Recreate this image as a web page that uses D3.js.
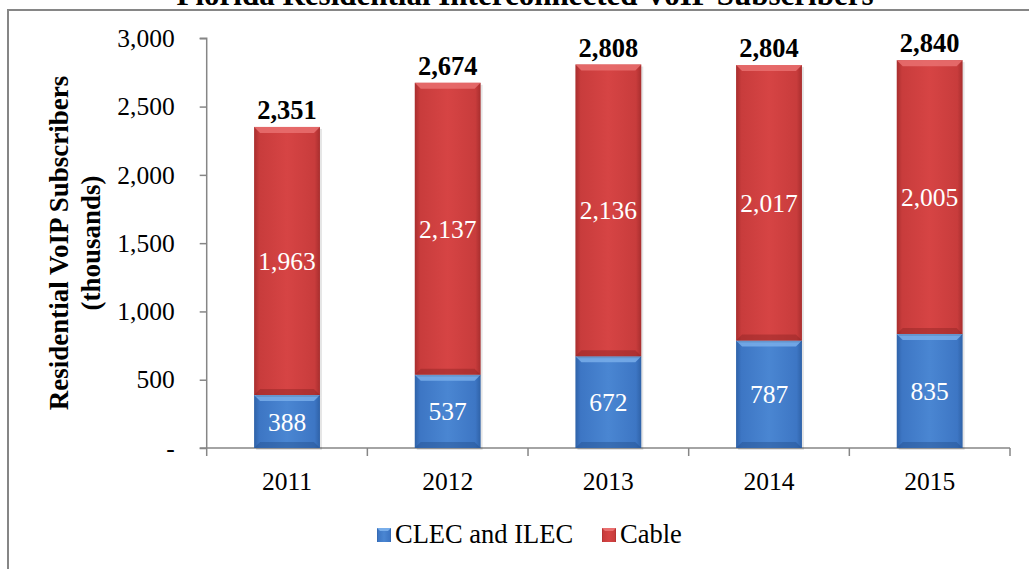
<!DOCTYPE html>
<html><head><meta charset="utf-8">
<script src="https://cdn.jsdelivr.net/npm/d3@7"></script>
<style>body{margin:0;background:#fff}svg{display:block}text{font-family:"Liberation Serif","Times New Roman",serif}</style>
</head><body><svg id="c" width="1029" height="569"></svg>
<script>
const years = ["2011","2012","2013","2014","2015"];
const clec = [388,537,672,787,835];
const cable = [1963,2137,2136,2017,2005];
const totals = [2351,2674,2808,2804,2840];
const yTicks = [0,500,1000,1500,2000,2500,3000];
const seriesNames = ["CLEC and ILEC","Cable"];
const titleText = "Florida Residential Interconnected VoIP Subscribers";
const yLabel = ["Residential VoIP Subscribers","(thousands)"];

const svg = d3.select("#c");
const defs = svg.append("defs");
function grad(id, stops, vertical){
  const g = defs.append("linearGradient").attr("id",id)
    .attr("x1",0).attr("y1",0).attr("x2",vertical?0:1).attr("y2",vertical?1:0);
  stops.forEach(s=>g.append("stop").attr("offset",s[0]).attr("stop-color",s[1]));
}
grad("gBlue",[[0,"#2f62a8"],[0.08,"#3d76c4"],[0.5,"#4a86d2"],[0.92,"#3d76c4"],[1,"#2f62a8"]]);
grad("gRed",[[0,"#a82e2e"],[0.08,"#c83c3c"],[0.5,"#d64444"],[0.92,"#c83c3c"],[1,"#a82e2e"]]);

// border
svg.append("rect").attr("x",8).attr("y",10).attr("width",1060).attr("height",600)
  .attr("fill","none").attr("stroke","#868686").attr("stroke-width",2);

// title (cut off at top, as in the reference)
svg.append("text").attr("x",525).attr("y",5).attr("text-anchor","middle")
  .attr("font-weight","bold").attr("font-size",31).text(titleText);

const x0 = 206.7, x1 = 1010, yTop = 38.3, yBot = 448;
const x = d3.scaleBand().domain(years).range([x0,x1]).paddingInner(0.59).paddingOuter(0.295);
const y = d3.scaleLinear().domain([0,3000]).range([yBot,yTop]);

// y axis
const yAxis = d3.axisLeft(y).tickValues(yTicks).tickSize(7).tickPadding(25)
  .tickFormat(d=> d===0 ? "-" : d3.format(",")(d));
const gy = svg.append("g").attr("transform",`translate(${x0},0)`).call(yAxis);
gy.select(".domain").attr("stroke","#868686").attr("stroke-width",1.5).attr("d",`M-7,${yTop}H0V${yBot}`);
gy.selectAll(".tick line").attr("stroke","#868686").attr("stroke-width",1.5);
gy.selectAll(".tick text").attr("font-size",25.5).attr("fill","#000")
  .attr("font-family","Liberation Serif, Times New Roman, serif");

// x axis
const gx = svg.append("g").attr("transform",`translate(0,${yBot})`);
gx.append("line").attr("x1",x0-7).attr("x2",x1).attr("y1",0).attr("y2",0).attr("stroke","#868686").attr("stroke-width",1.5);
const bounds = years.map((d,i)=> x0 + i*x.step()).concat([x1]);
gx.selectAll(".bt").data(bounds).enter().append("line")
  .attr("x1",d=>d).attr("x2",d=>d).attr("y1",0).attr("y2",8).attr("stroke","#868686").attr("stroke-width",1.5);
gx.selectAll(".xl").data(years).enter().append("text")
  .attr("x",d=>x(d)+x.bandwidth()/2).attr("y",42).attr("text-anchor","middle")
  .attr("font-size",25.5).text(d=>d);

// y label
const yl = svg.append("text").attr("transform",`translate(0,243) rotate(-90)`)
  .attr("text-anchor","middle").attr("font-weight","bold").attr("font-size",27);
yl.append("tspan").attr("x",0).attr("y",68).text(yLabel[0]);
yl.append("tspan").attr("x",0).attr("y",100).text(yLabel[1]);

// bars with bevel
function bevelBar(g, bx, by, bw, bh, fill, light, dark){
  const b = 6;
  g.append("rect").attr("x",bx+2).attr("y",by+2).attr("width",bw).attr("height",bh).attr("fill","#000").attr("opacity",0.1);
  g.append("rect").attr("x",bx).attr("y",by).attr("width",bw).attr("height",bh).attr("fill",fill);
  g.append("path").attr("d",`M${bx},${by}H${bx+bw}L${bx+bw-b},${by+b}H${bx+b}Z`).attr("fill",light).attr("opacity",0.85);
  g.append("path").attr("d",`M${bx},${by+bh}H${bx+bw}L${bx+bw-b},${by+bh-b}H${bx+b}Z`).attr("fill",dark).attr("opacity",0.45);
}
const gb = svg.append("g");
years.forEach((yr,i)=>{
  const bx = x(yr), bw = x.bandwidth();
  const yc0 = y(clec[i]), yc1 = y(0);
  bevelBar(gb, bx, yc0, bw, yc1-yc0, "url(#gBlue)", "#79aeea", "#24508e");
  const yr0 = y(totals[i]), yr1 = y(clec[i]);
  bevelBar(gb, bx, yr0, bw, yr1-yr0, "url(#gRed)", "#e97070", "#8e2424");
  gb.append("text").attr("x",bx+bw/2).attr("y",(yc0+yc1)/2+9).attr("text-anchor","middle")
    .attr("fill","#fff").attr("font-size",25.5).text(d3.format(",")(clec[i]));
  gb.append("text").attr("x",bx+bw/2).attr("y",(yr0+yr1)/2+9).attr("text-anchor","middle")
    .attr("fill","#fff").attr("font-size",25.5).text(d3.format(",")(cable[i]));
  gb.append("text").attr("x",bx+bw/2).attr("y",yr0-8).attr("text-anchor","middle")
    .attr("font-weight","bold").attr("font-size",26.5).text(d3.format(",")(totals[i]));
});

// legend
const lg = svg.append("g");
const legItems = [{n:seriesNames[0],x:377,c:"url(#gBlue)",l:"#79aeea"},{n:seriesNames[1],x:602,c:"url(#gRed)",l:"#e97070"}];
legItems.forEach(it=>{
  lg.append("rect").attr("x",it.x).attr("y",528).attr("width",14).attr("height",14).attr("fill",it.c);
  lg.append("path").attr("d",`M${it.x},528h14l-3,3h-8z`).attr("fill",it.l);
  lg.append("text").attr("x",it.x+18).attr("y",543).attr("font-size",26.5).text(it.n);
});
</script></body></html>
